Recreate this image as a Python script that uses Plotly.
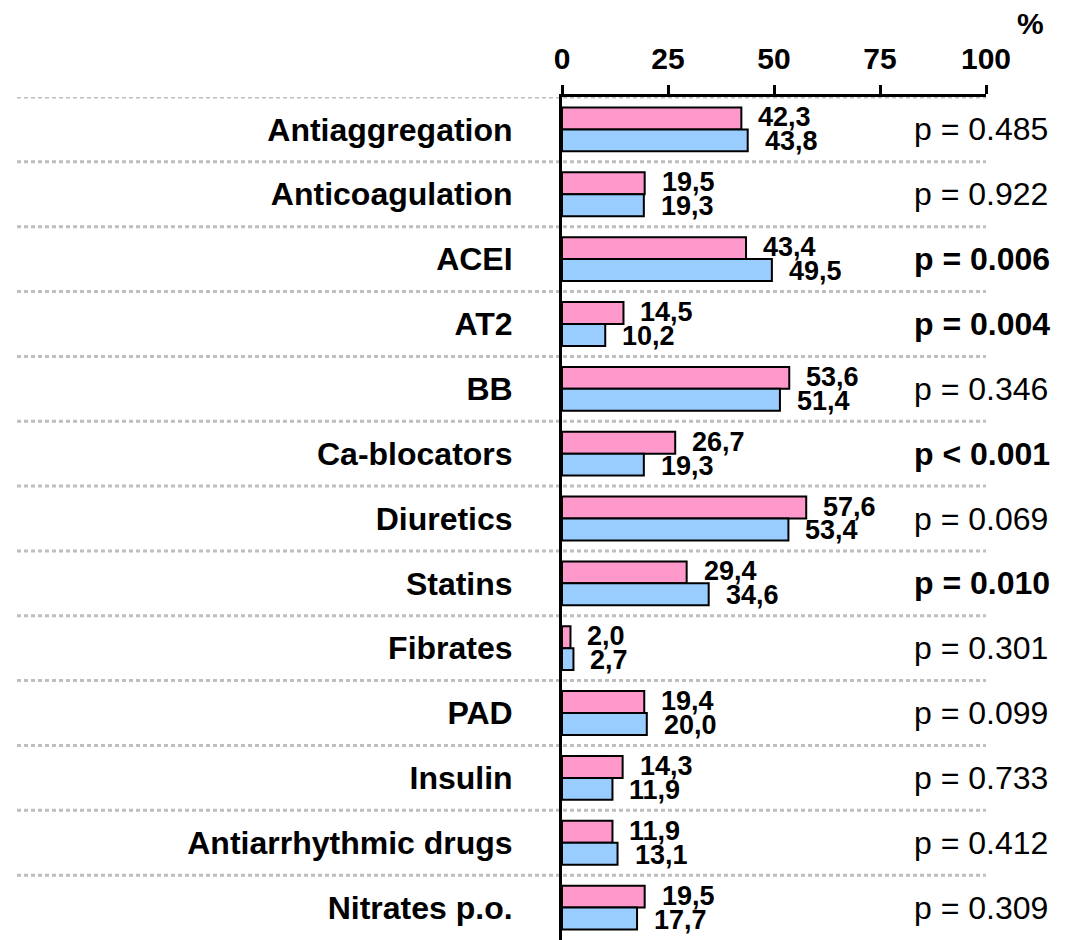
import plotly.graph_objects as go

categories = ["Antiaggregation", "Anticoagulation", "ACEI", "AT2", "BB", "Ca-blocators",
              "Diuretics", "Statins", "Fibrates", "PAD", "Insulin",
              "Antiarrhythmic drugs", "Nitrates p.o."]
pink_values = [42.3, 19.5, 43.4, 14.5, 53.6, 26.7, 57.6, 29.4, 2.0, 19.4, 14.3, 11.9, 19.5]
blue_values = [43.8, 19.3, 49.5, 10.2, 51.4, 19.3, 53.4, 34.6, 2.7, 20.0, 11.9, 13.1, 17.7]
p_labels = ["p = 0.485", "p = 0.922", "p = 0.006", "p = 0.004", "p = 0.346", "p < 0.001",
            "p = 0.069", "p = 0.010", "p = 0.301", "p = 0.099", "p = 0.733", "p = 0.412",
            "p = 0.309"]
p_significant = [False, False, True, True, False, True, False, True, False, False, False,
                 False, False]
x_ticks = [0, 25, 50, 75, 100]

FONT = "Liberation Sans, Arial, sans-serif"
PINK = "#FF99CC"
BLUE = "#99CCFF"

rows = list(range(len(categories)))
W = 0.338
PLOT_W = 424
PLOT_H = 843

fig = go.Figure()
fig.add_trace(go.Bar(y=rows, x=pink_values, orientation="h", width=W, offset=-W,
                     marker=dict(color=PINK, line=dict(color="black", width=2)),
                     hoverinfo="skip", showlegend=False))
fig.add_trace(go.Bar(y=rows, x=blue_values, orientation="h", width=W, offset=0,
                     marker=dict(color=BLUE, line=dict(color="black", width=2)),
                     hoverinfo="skip", showlegend=False))

def fmt(v):
    return f"{v:.1f}".replace(".", ",")

annotations = []
for i in rows:
    annotations.append(dict(x=pink_values[i], y=i - W / 2, xref="x", yref="y",
                            text=f"<b>{fmt(pink_values[i])}</b>", showarrow=False,
                            xanchor="left", yanchor="middle", xshift=15, yshift=1,
                            font=dict(family=FONT, size=27, color="black")))
    annotations.append(dict(x=blue_values[i], y=i + W / 2, xref="x", yref="y",
                            text=f"<b>{fmt(blue_values[i])}</b>", showarrow=False,
                            xanchor="left", yanchor="middle", xshift=15, yshift=-1,
                            font=dict(family=FONT, size=27, color="black")))
    txt = f"<b>{p_labels[i]}</b>" if p_significant[i] else p_labels[i]
    annotations.append(dict(x=350 / PLOT_W, y=i, xref="paper", yref="y",
                            text=txt, showarrow=False, xanchor="left", yanchor="middle",
                            font=dict(family=FONT, size=32, color="black")))

annotations.append(dict(x=(1030 - 562) / PLOT_W, y=1 + (97 - 24) / PLOT_H, xref="paper",
                        yref="paper", text="<b>%</b>", showarrow=False,
                        xanchor="center", yanchor="middle",
                        font=dict(family=FONT, size=30, color="black")))

shapes = []
for k in range(len(categories)):
    shapes.append(dict(type="line", xref="paper", yref="y",
                       x0=(17 - 562) / PLOT_W, x1=1.0, y0=k - 0.5, y1=k - 0.5,
                       line=dict(color="#BFBFBF", width=3, dash="4px,3px"),
                       layer="below"))

# page body has an 8px margin, so the figure starts at (8, 8)
fig.update_layout(
    width=1060, height=932,
    margin=dict(l=554, r=82, t=89, b=0),
    paper_bgcolor="white", plot_bgcolor="white",
    barmode="overlay",
    annotations=annotations,
    shapes=shapes,
    font=dict(family=FONT, color="black"),
    xaxis=dict(side="top", range=[0, 100], tickvals=x_ticks,
               ticktext=[str(t) for t in x_ticks],
               showgrid=False, zeroline=False, showline=True, linewidth=3,
               linecolor="black", ticks="outside", ticklen=9, tickwidth=3,
               tickcolor="black", ticklabelstandoff=4,
               tickfont=dict(family=FONT, size=30, color="black", weight="bold")),
    yaxis=dict(range=[12.5, -0.5], tickvals=rows, ticktext=categories,
               showgrid=False, zeroline=False, showline=True, linewidth=3,
               linecolor="black", ticks="", ticklabelstandoff=40,
               tickfont=dict(family=FONT, size=32, color="black", weight="bold")),
)

fig.write_html("out.html")
